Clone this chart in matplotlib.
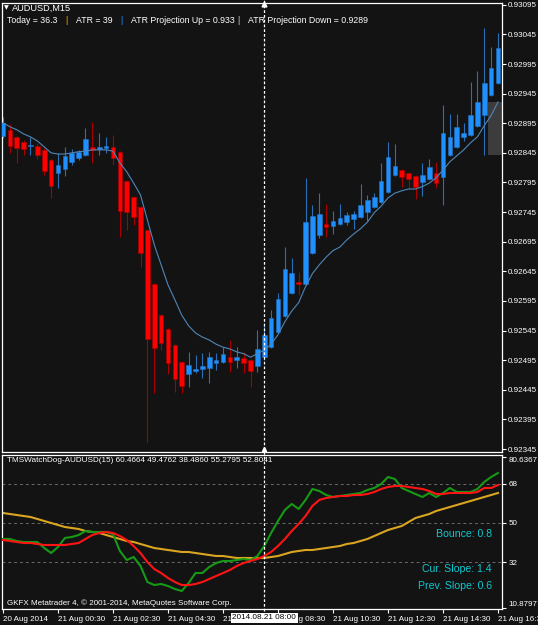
import matplotlib
matplotlib.use("Agg")
import matplotlib.pyplot as plt
import matplotlib.transforms as mtransforms
from matplotlib.lines import Line2D
from matplotlib.patches import Rectangle

plt.rcParams['font.family'] = ['Liberation Sans', 'DejaVu Sans']

# AUDUSD M15 candles, 20 Aug 2014 22:30 ... 21 Aug 2014 16:30
opens = [0.92874, 0.92884, 0.92872, 0.92864, 0.92857, 0.92857, 0.92850, 0.92833, 0.92811, 0.92818,
         0.92830, 0.92837, 0.92842, 0.92855, 0.92852, 0.92853, 0.92855, 0.92847, 0.92798, 0.92771,
         0.92754, 0.92715, 0.92624, 0.92571, 0.92548, 0.92521, 0.92492, 0.92472, 0.92477, 0.92480,
         0.92482, 0.92490, 0.92492, 0.92500, 0.92495, 0.92499, 0.92495, 0.92485, 0.92500, 0.92517,
         0.92543, 0.92570, 0.92609, 0.92627, 0.92624, 0.92676, 0.92707, 0.92725, 0.92722, 0.92725,
         0.92728, 0.92734, 0.92737, 0.92745, 0.92754, 0.92762, 0.92779, 0.92808, 0.92816, 0.92811,
         0.92806, 0.92796, 0.92801, 0.92811, 0.92804, 0.92842, 0.92855, 0.92872, 0.92875, 0.92891,
         0.92909, 0.92943, 0.92963]
highs = [0.92906, 0.92894, 0.92874, 0.92867, 0.92872, 0.92862, 0.92853, 0.92835, 0.92845, 0.92855,
         0.92852, 0.92850, 0.92887, 0.92897, 0.92879, 0.92872, 0.92875, 0.92848, 0.92799, 0.92772,
         0.92755, 0.92717, 0.92625, 0.92573, 0.92549, 0.92522, 0.92494, 0.92509, 0.92504, 0.92507,
         0.92509, 0.92507, 0.92517, 0.92529, 0.92517, 0.92509, 0.92497, 0.92546, 0.92558, 0.92580,
         0.92609, 0.92686, 0.92668, 0.92644, 0.92803, 0.92757, 0.92777, 0.92759, 0.92747, 0.92759,
         0.92745, 0.92747, 0.92793, 0.92774, 0.92777, 0.92828, 0.92864, 0.92860, 0.92818, 0.92813,
         0.92808, 0.92828, 0.92835, 0.92830, 0.92926, 0.92911, 0.92911, 0.92896, 0.92965, 0.92984,
         0.93056, 0.93024, 0.93048]
lows = [0.92870, 0.92845, 0.92828, 0.92842, 0.92842, 0.92835, 0.92808, 0.92769, 0.92786, 0.92806,
        0.92825, 0.92833, 0.92840, 0.92828, 0.92842, 0.92845, 0.92825, 0.92703, 0.92715, 0.92723,
        0.92652, 0.92357, 0.92440, 0.92512, 0.92472, 0.92441, 0.92440, 0.92450, 0.92473, 0.92465,
        0.92457, 0.92478, 0.92490, 0.92475, 0.92482, 0.92473, 0.92450, 0.92475, 0.92495, 0.92516,
        0.92541, 0.92568, 0.92607, 0.92605, 0.92622, 0.92674, 0.92701, 0.92703, 0.92708, 0.92723,
        0.92723, 0.92717, 0.92735, 0.92730, 0.92752, 0.92761, 0.92777, 0.92806, 0.92788, 0.92784,
        0.92767, 0.92772, 0.92799, 0.92786, 0.92757, 0.92840, 0.92853, 0.92865, 0.92874, 0.92889,
        0.92842, 0.92941, 0.92962]
closes = [0.92896, 0.92857, 0.92853, 0.92852, 0.92859, 0.92842, 0.92815, 0.92789, 0.92825, 0.92840,
          0.92845, 0.92847, 0.92869, 0.92850, 0.92855, 0.92857, 0.92837, 0.92747, 0.92745, 0.92737,
          0.92676, 0.92531, 0.92516, 0.92524, 0.92490, 0.92463, 0.92451, 0.92487, 0.92480, 0.92485,
          0.92500, 0.92495, 0.92506, 0.92492, 0.92500, 0.92490, 0.92477, 0.92514, 0.92538, 0.92566,
          0.92598, 0.92649, 0.92642, 0.92624, 0.92728, 0.92739, 0.92742, 0.92720, 0.92730, 0.92735,
          0.92740, 0.92742, 0.92757, 0.92766, 0.92771, 0.92798, 0.92838, 0.92823, 0.92804, 0.92801,
          0.92788, 0.92808, 0.92821, 0.92794, 0.92879, 0.92872, 0.92889, 0.92879, 0.92909, 0.92931,
          0.92963, 0.92989, 0.93022]
ma = [0.92896, 0.92889, 0.92884, 0.92877, 0.92872, 0.92865, 0.92855, 0.92845, 0.92843, 0.92843,
      0.92845, 0.92847, 0.92848, 0.92850, 0.92850, 0.92850, 0.92848, 0.92828, 0.92813, 0.92794,
      0.92774, 0.92732, 0.92690, 0.92656, 0.92622, 0.92597, 0.92571, 0.92553, 0.92541, 0.92534,
      0.92529, 0.92522, 0.92517, 0.92514, 0.92509, 0.92506, 0.92500, 0.92506, 0.92512, 0.92522,
      0.92538, 0.92560, 0.92578, 0.92592, 0.92619, 0.92641, 0.92656, 0.92669, 0.92680, 0.92686,
      0.92698, 0.92708, 0.92717, 0.92728, 0.92744, 0.92755, 0.92769, 0.92777, 0.92781, 0.92784,
      0.92784, 0.92788, 0.92794, 0.92803, 0.92816, 0.92830, 0.92840, 0.92850, 0.92862, 0.92872,
      0.92891, 0.92908, 0.92931]

# TMSWatchDog indicator lines
wd_green = [42.62, 42.62, 41.69, 41.23, 41.23, 41.23, 38.46, 36.15, 38.92, 43.08,
            43.54, 44.46, 46.31, 45.85, 45.85, 45.85, 44.92, 37.08, 32.92, 34.31,
            30.15, 22.77, 21.38, 21.85, 20.92, 19.54, 18.62, 22.31, 26.92, 26.92,
            29.69, 31.54, 32.46, 32.46, 32.92, 33.38, 32.92, 34.77, 39.39, 45.39,
            50.92, 56.00, 58.77, 56.46, 60.62, 65.69, 64.77, 62.92, 62.00, 62.46,
            62.92, 63.38, 63.85, 65.23, 66.15, 68.00, 71.23, 70.31, 66.15, 64.77,
            63.38, 62.00, 63.85, 62.00, 63.85, 66.15, 64.31, 64.31, 64.31, 65.69,
            68.92, 71.23, 73.08]
wd_red = [42.15, 41.69, 41.23, 40.77, 40.77, 40.31, 39.85, 39.85, 39.85, 39.85,
          40.31, 40.77, 42.62, 44.46, 45.39, 45.85, 45.39, 44.00, 42.15, 39.39,
          36.15, 32.00, 28.77, 26.92, 24.62, 22.77, 21.38, 21.38, 21.85, 22.77,
          24.15, 25.54, 26.92, 28.31, 30.15, 31.54, 32.46, 33.38, 34.77, 36.62,
          39.39, 42.62, 46.31, 49.54, 53.23, 57.85, 60.62, 61.54, 62.00, 62.46,
          62.46, 62.92, 62.92, 63.38, 64.31, 65.69, 66.62, 67.08, 67.08, 66.62,
          66.15, 65.69, 64.77, 63.38, 63.38, 63.85, 63.85, 63.85, 63.85, 64.31,
          66.15, 66.15, 67.54]
wd_orange = [54.62, 54.15, 53.69, 53.23, 52.77, 51.85, 50.92, 50.00, 49.08, 48.15,
             47.69, 47.23, 46.31, 45.85, 45.39, 44.46, 43.54, 42.62, 41.69, 41.23,
             40.31, 39.39, 38.46, 38.00, 37.54, 37.08, 36.62, 36.62, 36.15, 35.69,
             35.23, 34.77, 34.77, 34.31, 33.85, 33.85, 33.85, 33.85, 33.85, 34.31,
             34.77, 35.69, 36.62, 37.08, 37.54, 37.54, 38.00, 38.46, 38.92, 39.39,
             40.31, 40.77, 41.69, 42.62, 44.00, 45.39, 46.77, 47.69, 48.62, 50.46,
             52.31, 53.23, 54.15, 55.54, 56.46, 57.38, 58.31, 59.23, 60.15, 61.08,
             62.00, 62.92, 63.85]

price_ticks = [0.93095, 0.93045, 0.92995, 0.92945, 0.92895, 0.92845, 0.92795, 0.92745,
               0.92695, 0.92645, 0.92595, 0.92545, 0.92495, 0.92445, 0.92395, 0.92345]
wd_ticks = [80.6367, 68, 50, 32, 10.8797]
wd_tick_labels = ['80.6367', '68', '50', '32', '10.8797']
wd_levels = [68, 50, 32]

time_bars = [0, 8, 16, 24, 32, 40, 48, 56, 64, 72]
time_labels = ['20 Aug 2014', '21 Aug 00:30', '21 Aug 02:30', '21 Aug 04:30', '21 Aug 06:30',
               '21 Aug 08:30', '21 Aug 10:30', '21 Aug 12:30', '21 Aug 14:30', '21 Aug 16:30']
cursor_bar = 38
cursor_label = '2014.08.21 08:00'

# ATR projection box at the right edge
atr_box_left = 70.6
atr_box_top = 0.92931
atr_box_bottom = 0.92842

bg = '#131313'
up_body, up_wick = '#1e90ff', '#2a6fb8'
dn_body, dn_wick = '#ff0000', '#a80000'

fig = plt.figure(figsize=(5.38, 6.25), dpi=100, facecolor=bg)
ax = fig.add_axes([2 / 538, 173 / 625, 500 / 538, 449 / 625], facecolor=bg)
ax2 = fig.add_axes([2 / 538, 16 / 625, 500 / 538, 154 / 625], facecolor=bg)

xlim = (-0.145, 72.58)

# --- price panel ---
ax.add_patch(Rectangle((atr_box_left, atr_box_bottom), xlim[1] - atr_box_left + 1,
                       atr_box_top - atr_box_bottom, facecolor='#3c3c3c', edgecolor='none', zorder=1))
for i in range(len(opens)):
    o, h, l, c = opens[i], highs[i], lows[i], closes[i]
    bull = c >= o
    wick = up_wick if bull else dn_wick
    body = up_body if bull else dn_body
    ax.vlines(i, l, h, color=wick, lw=0.8, zorder=2)
    lo = min(o, c)
    hgt = max(abs(c - o), 0.000012)
    ax.add_patch(Rectangle((i - 0.33, lo), 0.66, hgt, facecolor=body, edgecolor=wick,
                           lw=0.4, zorder=3))
ax.plot(range(len(ma)), ma, color='#4f86b8', lw=0.8, zorder=4)

ax.set_xlim(*xlim)
ax.set_ylim(0.92340, 0.93098)
ax.yaxis.tick_right()
ax.set_yticks(price_ticks)
ax.set_yticklabels(['%.5f' % p for p in price_ticks])
ax.tick_params(axis='y', colors='white', labelsize=5.8, length=3, width=0.8, pad=1.5)
ax.set_xticks([])
for s in ax.spines.values():
    s.set_color('white')
    s.set_linewidth(0.9)

# --- indicator panel ---
for lvl in wd_levels:
    ax2.axhline(lvl, color='#6a6a6a', lw=0.7, ls=(0, (3, 3)), zorder=1)
x = range(len(wd_green))
ax2.plot(x, wd_orange, color='#daa520', lw=1.5, zorder=2)
ax2.plot(x, wd_green, color='#169a16', lw=1.5, zorder=3)
ax2.plot(x, wd_red, color='#ff1414', lw=1.5, zorder=4)
ax2.set_xlim(*xlim)
ax2.set_ylim(10.31, 81.38)
ax2.yaxis.tick_right()
ax2.set_yticks(wd_ticks)
ax2.set_yticklabels(wd_tick_labels)
ax2.tick_params(axis='y', colors='white', labelsize=5.8, length=3, width=0.8, pad=1.5)
labs = ax2.get_yticklabels()
labs[0].set_va('top')
labs[-1].set_va('bottom')
ax2.set_xticks(time_bars)
ax2.set_xticklabels(time_labels, ha='left')
ax2.tick_params(axis='x', colors='white', labelsize=5.8, length=3, width=0.8, pad=2)
for s in ax2.spines.values():
    s.set_color('white')
    s.set_linewidth(0.9)

ax2.text(0.01, 0.965, 'TMSWatchDog-AUDUSD(15) 60.4664 49.4762 38.4860 55.2795 52.8041',
         transform=ax2.transAxes, color='white', fontsize=5.9, va='center', ha='left')
ax2.text(0.01, 0.04, 'GKFX Metatrader 4, \u00a9 2001-2014, MetaQuotes Software Corp.',
         transform=ax2.transAxes, color='white', fontsize=5.8, va='center', ha='left')
cyan = '#10c8d0'
ax2.text(0.98, 0.49, 'Bounce: 0.8', transform=ax2.transAxes, color=cyan, fontsize=7.6,
         ha='right', va='center')
ax2.text(0.98, 0.26, 'Cur. Slope: 1.4', transform=ax2.transAxes, color=cyan, fontsize=7.6,
         ha='right', va='center')
ax2.text(0.98, 0.15, 'Prev. Slope: 0.6', transform=ax2.transAxes, color=cyan, fontsize=7.6,
         ha='right', va='center')

# cursor: dashed vertical line across both panels and the time box
tr = mtransforms.blended_transform_factory(ax.transData, fig.transFigure)
fig.add_artist(Line2D([cursor_bar, cursor_bar], [0.022, 1.0], transform=tr, color='white',
                      lw=0.9, ls=(0, (2.2, 1.6)), zorder=20))
fig.add_artist(Line2D([cursor_bar], [1 - 3.5 / 625], transform=tr, marker='^', ms=3.5,
                      color='white', zorder=21))
fig.add_artist(Line2D([cursor_bar], [1 - 449 / 625], transform=tr, marker='^', ms=3,
                      color='white', zorder=21))
tr2 = mtransforms.blended_transform_factory(ax2.transData, ax2.transAxes)
ax2.text(cursor_bar, -0.058, cursor_label, transform=tr2, ha='center', va='center',
         fontsize=5.9, color='black', clip_on=False, zorder=30,
         bbox=dict(facecolor='white', edgecolor='none', pad=1.2))

# --- header text ---
fig.text(3.5 / 538, 1 - 8 / 625, '\u25bc', color='white', fontsize=4.5, va='center', ha='left',
         family=['DejaVu Sans'])
fig.text(12 / 538, 1 - 8 / 625, 'AUDUSD,M15', color='white', fontsize=6.6, va='center')
y2 = 1 - 20.7 / 625
fs = 6.3
fig.text(7 / 538, y2, 'Today = 36.3', color='white', fontsize=fs, va='center')
fig.text(66 / 538, y2, '|', color='#ffa500', fontsize=fs, va='center', ha='center')
fig.text(76 / 538, y2, 'ATR = 39', color='white', fontsize=fs, va='center')
fig.text(121 / 538, y2, '|', color='#1e90ff', fontsize=fs, va='center', ha='center')
fig.text(131 / 538, y2, 'ATR Projection Up = 0.933', color='white', fontsize=fs, va='center')
fig.text(238 / 538, y2, '|', color='#d0d0d0', fontsize=fs, va='center', ha='center')
fig.text(248 / 538, y2, 'ATR Projection Down = 0.9289', color='white', fontsize=fs, va='center')

fig.savefig('out.png', dpi=100, facecolor=bg)
